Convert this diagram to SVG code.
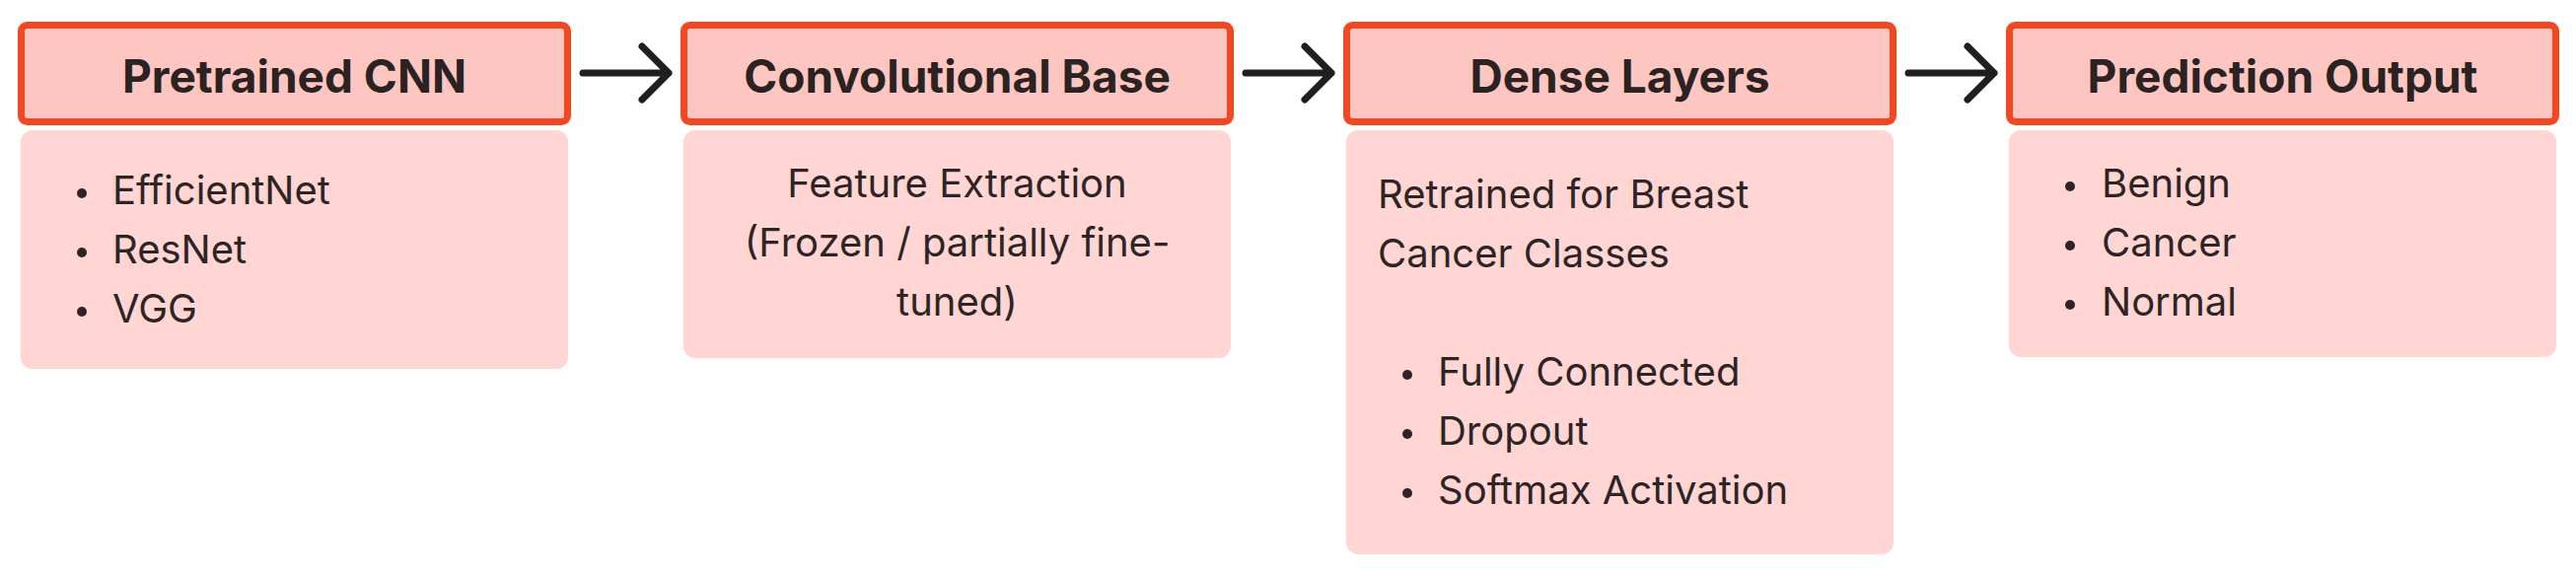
<svg xmlns="http://www.w3.org/2000/svg" width="2612" height="584" viewBox="0 0 2612 584">
<defs>
<style>
.hdr{fill:#FDC6C1;stroke:#F24822;stroke-width:7}
.body{fill:#FFD6D3}
.ht{font-family:Inter,"Liberation Sans",sans-serif;font-weight:700;font-size:46px;fill:#2B2222;text-anchor:middle}
.bt{font-family:Inter,"Liberation Sans",sans-serif;font-weight:400;font-size:40px;fill:#2D2525}
.c{text-anchor:middle}
.dot{fill:#2D2525}
.arr{fill:none;stroke:#1F1F1F;stroke-width:7;stroke-linecap:round;stroke-linejoin:round}
</style>
</defs>
<rect width="2612" height="584" fill="#FFFFFF"/>
<g id="connectors">
<path class="arr" d="M591 74 H678 M651 47 L678 74 L651 101"/>
<path class="arr" d="M1263 74 H1350 M1323 47 L1350 74 L1323 101"/>
<path class="arr" d="M1935 74 H2022 M1995 47 L2022 74 L1995 101"/>
</g>
<g id="node-pretrained-cnn">
<rect class="hdr" x="21.5" y="25.5" width="554" height="98" rx="6"/>
<text class="ht" x="298.5" y="94">Pretrained CNN</text>
<rect class="body" x="21" y="132" width="555" height="242" rx="12"/>
<circle class="dot" cx="83" cy="196" r="5"/>
<circle class="dot" cx="83" cy="256" r="5"/>
<circle class="dot" cx="83" cy="316" r="5"/>
<text class="bt" x="114" y="207">EfficientNet</text>
<text class="bt" x="114" y="267">ResNet</text>
<text class="bt" x="114" y="327">VGG</text>
</g>
<g id="node-convolutional-base">
<rect class="hdr" x="693.5" y="25.5" width="554" height="98" rx="6"/>
<text class="ht" x="970.5" y="94">Convolutional Base</text>
<rect class="body" x="693" y="132" width="555" height="231" rx="12"/>
<text class="bt c" x="970.5" y="200">Feature Extraction</text>
<text class="bt c" x="970.5" y="260">(Frozen / partially fine-</text>
<text class="bt c" x="970.5" y="320">tuned)</text>
</g>
<g id="node-dense-layers">
<rect class="hdr" x="1365.5" y="25.5" width="554" height="98" rx="6"/>
<text class="ht" x="1642.5" y="94">Dense Layers</text>
<rect class="body" x="1365" y="132" width="555" height="430" rx="12"/>
<text class="bt" x="1397" y="211">Retrained for Breast</text>
<text class="bt" x="1397" y="271">Cancer Classes</text>
<circle class="dot" cx="1427" cy="380" r="5"/>
<circle class="dot" cx="1427" cy="440" r="5"/>
<circle class="dot" cx="1427" cy="500" r="5"/>
<text class="bt" x="1458" y="391">Fully Connected</text>
<text class="bt" x="1458" y="451">Dropout</text>
<text class="bt" x="1458" y="511">Softmax Activation</text>
</g>
<g id="node-prediction-output">
<rect class="hdr" x="2037.5" y="25.5" width="554" height="98" rx="6"/>
<text class="ht" x="2314.5" y="94">Prediction Output</text>
<rect class="body" x="2037" y="132" width="555" height="230" rx="12"/>
<circle class="dot" cx="2099" cy="189" r="5"/>
<circle class="dot" cx="2099" cy="249" r="5"/>
<circle class="dot" cx="2099" cy="309" r="5"/>
<text class="bt" x="2131" y="200">Benign</text>
<text class="bt" x="2131" y="260">Cancer</text>
<text class="bt" x="2131" y="320">Normal</text>
</g>
</svg>
